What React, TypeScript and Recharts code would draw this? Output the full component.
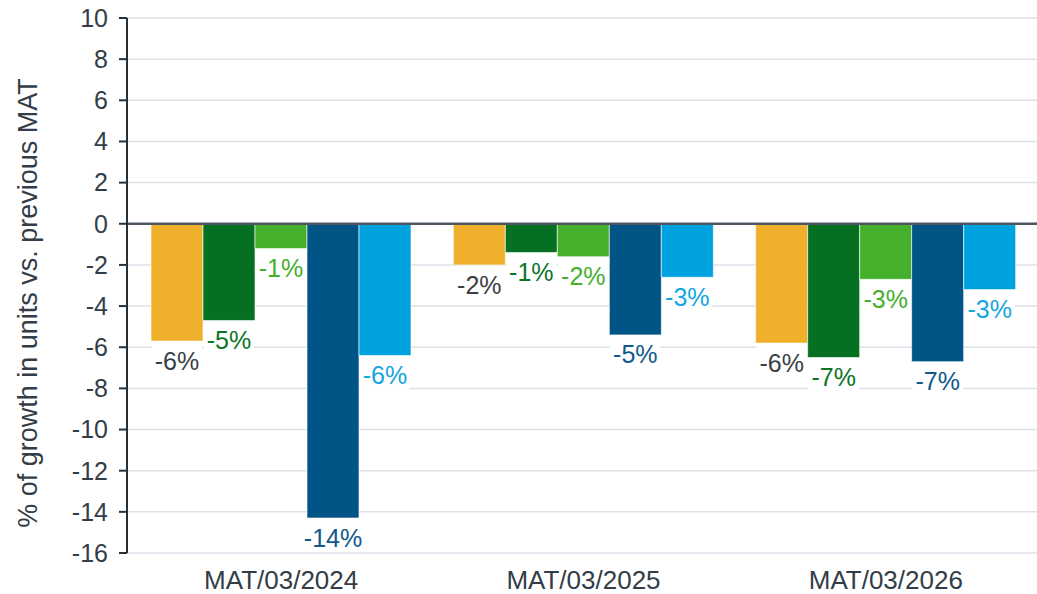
import React from "react"
import { Bar, BarChart, CartesianGrid, LabelList, ReferenceLine, XAxis, YAxis } from "recharts"

const categories = ["MAT/03/2024", "MAT/03/2025", "MAT/03/2026"]
const seriesA = [-5.7, -2.0, -5.8]
const seriesB = [-4.7, -1.4, -6.5]
const seriesC = [-1.2, -1.6, -2.7]
const seriesD = [-14.3, -5.4, -6.7]
const seriesE = [-6.4, -2.6, -3.2]
const yTicks = [10, 8, 6, 4, 2, 0, -2, -4, -6, -8, -10, -12, -14, -16]

const data = categories.map((name, i) => ({
  name,
  a: seriesA[i],
  b: seriesB[i],
  c: seriesC[i],
  d: seriesD[i],
  e: seriesE[i],
}))

const FONT = "'Liberation Sans', Arial, sans-serif"
const TEXT = "#333d47"

const series = [
  { key: "a", fill: "#efb12b", label: "#3a3f45" },
  { key: "b", fill: "#067022", label: "#0b7526" },
  { key: "c", fill: "#45b02c", label: "#45b02c" },
  { key: "d", fill: "#005486", label: "#11598a" },
  { key: "e", fill: "#00a2e0", label: "#12a6e0" },
]

function pct(v: number) {
  const r = Math.sign(v) * Math.round(Math.abs(v))
  return `${r}%`
}

function makeLabel(color: string) {
  return (props: any) => {
    const { x, y, width, height, value } = props
    const bottom = Math.max(y, y + height)
    const cx = x + width / 2
    const text = pct(value)
    const w = text.length * 14 + 8
    return (
      <g>
        <rect x={cx - w / 2} y={bottom + 1} width={w} height={33} fill="#ffffff" />
        <text
          x={cx}
          y={bottom + 22}
          textAnchor="middle"
          dominantBaseline="middle"
          fontFamily={FONT}
          fontSize={25}
          fill={color}
        >
          {text}
        </text>
      </g>
    )
  }
}

function YLabel() {
  return (
    <text
      x={30}
      y={303}
      transform="rotate(-90 30 303)"
      textAnchor="middle"
      dominantBaseline="middle"
      fontFamily={FONT}
      fontSize={27}
      fill={TEXT}
    >
      % of growth in units vs. previous MAT
    </text>
  )
}

export default function App() {
  return (
    <div style={{ position: "absolute", left: 0, top: 0, background: "#fff" }}>
      <BarChart
        width={1037}
        height={594}
        data={data}
        margin={{ top: 18, right: 0, left: 0, bottom: 0 }}
        barCategoryGap={21}
        barGap={0}
      >
        <CartesianGrid vertical={false} stroke="#dde1ea" strokeWidth={1.5} />
        <XAxis
          dataKey="name"
          height={41}
          padding={{ left: 3, right: 0 }}
          axisLine={false}
          tickLine={false}
          tickSize={6}
          tickMargin={12}
          tick={{ fill: TEXT, fontSize: 26, fontFamily: FONT }}
          interval={0}
        />
        <YAxis
          width={127}
          domain={[-16, 10]}
          ticks={yTicks}
          interval={0}
          allowDataOverflow
          axisLine={{ stroke: "#263038", strokeWidth: 2 }}
          tickLine={{ stroke: "#263038", strokeWidth: 2 }}
          tickSize={8}
          tickMargin={11}
          tick={{ fill: TEXT, fontSize: 25, fontFamily: FONT }}
        />
        {series.map((s) => (
          <Bar
            key={s.key}
            dataKey={s.key}
            fill={s.fill}
            stroke="#ffffff"
            strokeOpacity={0.6}
            strokeWidth={1}
            isAnimationActive={false}
          >
            <LabelList dataKey={s.key} content={makeLabel(s.label)} />
          </Bar>
        ))}
        <ReferenceLine y={0} stroke="#4d5661" strokeWidth={2.5} />
        <YLabel />
      </BarChart>
    </div>
  )
}
